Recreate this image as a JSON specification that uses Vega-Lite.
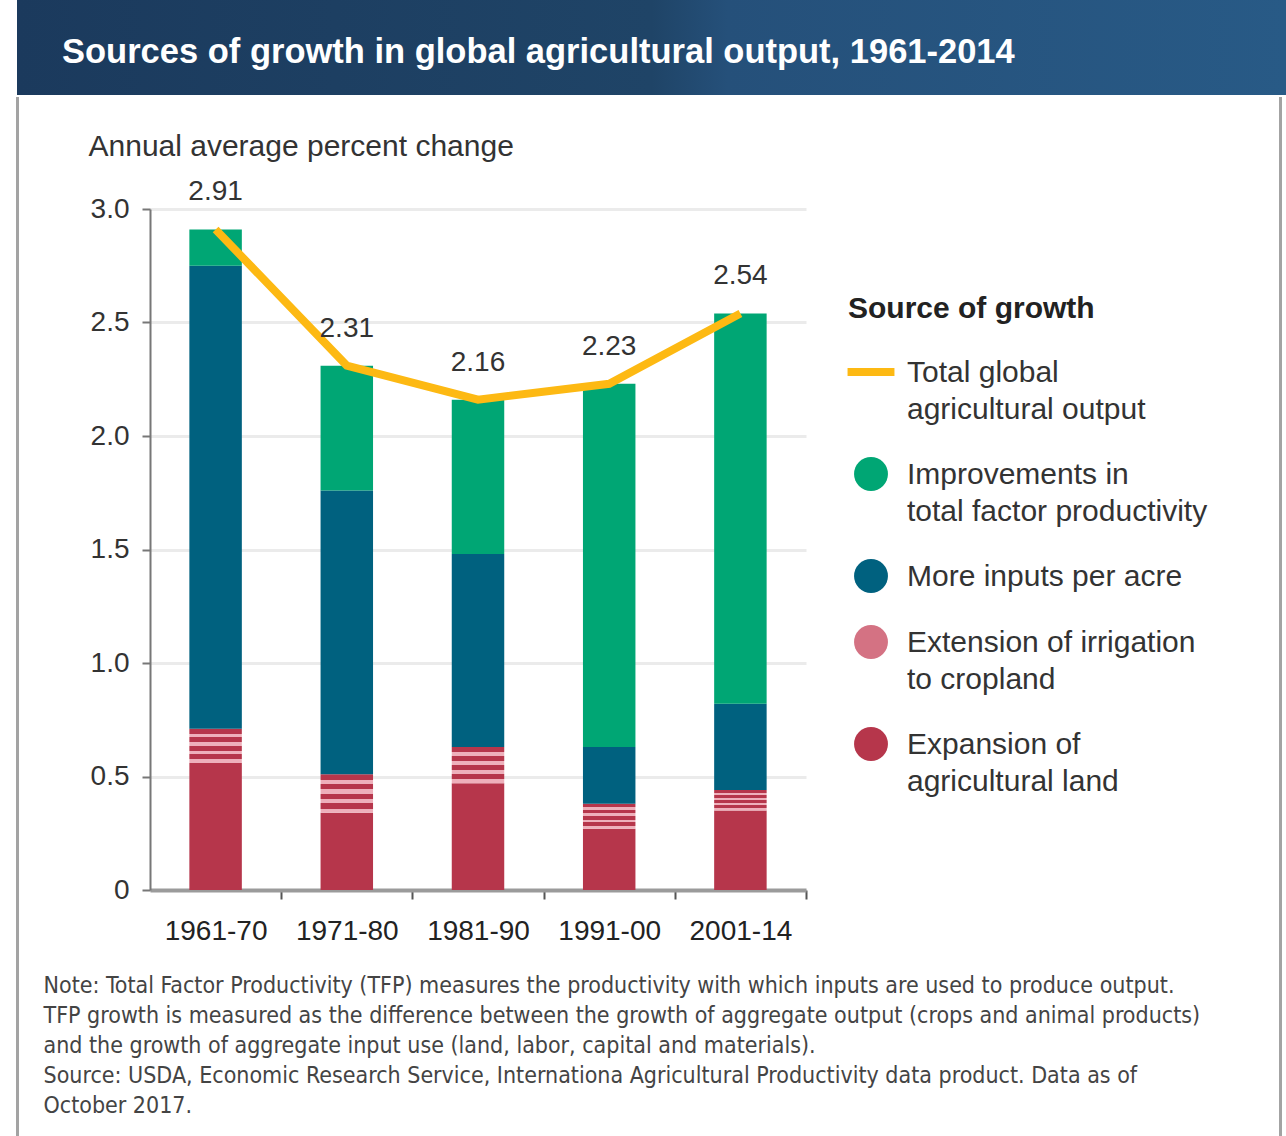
{
  "$schema": "https://vega.github.io/schema/vega-lite/v6.json",
  "padding": {"left": 17, "top": 0, "right": 0, "bottom": 0},
  "background": "white",
  "config": {"view": {"stroke": null}, "font": "Liberation Sans"},
  "datasets": {
    "bars": [
      {"period": "1961-70", "source": "Expansion of agricultural land", "layer": 1, "value": 0.56},
      {"period": "1961-70", "source": "Extension of irrigation to cropland", "layer": 2, "value": 0.15},
      {"period": "1961-70", "source": "More inputs per acre", "layer": 3, "value": 2.04},
      {"period": "1961-70", "source": "Improvements in total factor productivity", "layer": 4, "value": 0.16},
      {"period": "1971-80", "source": "Expansion of agricultural land", "layer": 1, "value": 0.34},
      {"period": "1971-80", "source": "Extension of irrigation to cropland", "layer": 2, "value": 0.17},
      {"period": "1971-80", "source": "More inputs per acre", "layer": 3, "value": 1.25},
      {"period": "1971-80", "source": "Improvements in total factor productivity", "layer": 4, "value": 0.55},
      {"period": "1981-90", "source": "Expansion of agricultural land", "layer": 1, "value": 0.47},
      {"period": "1981-90", "source": "Extension of irrigation to cropland", "layer": 2, "value": 0.16},
      {"period": "1981-90", "source": "More inputs per acre", "layer": 3, "value": 0.85},
      {"period": "1981-90", "source": "Improvements in total factor productivity", "layer": 4, "value": 0.68},
      {"period": "1991-00", "source": "Expansion of agricultural land", "layer": 1, "value": 0.27},
      {"period": "1991-00", "source": "Extension of irrigation to cropland", "layer": 2, "value": 0.11},
      {"period": "1991-00", "source": "More inputs per acre", "layer": 3, "value": 0.25},
      {"period": "1991-00", "source": "Improvements in total factor productivity", "layer": 4, "value": 1.60},
      {"period": "2001-14", "source": "Expansion of agricultural land", "layer": 1, "value": 0.35},
      {"period": "2001-14", "source": "Extension of irrigation to cropland", "layer": 2, "value": 0.09},
      {"period": "2001-14", "source": "More inputs per acre", "layer": 3, "value": 0.38},
      {"period": "2001-14", "source": "Improvements in total factor productivity", "layer": 4, "value": 1.72}
    ],
    "totals": [
      {"period": "1961-70", "source": "Total global agricultural output", "total": 2.91},
      {"period": "1971-80", "source": "Total global agricultural output", "total": 2.31},
      {"period": "1981-90", "source": "Total global agricultural output", "total": 2.16},
      {"period": "1991-00", "source": "Total global agricultural output", "total": 2.23},
      {"period": "2001-14", "source": "Total global agricultural output", "total": 2.54}
    ]
  },
  "spacing": 36,
  "vconcat": [
    {
      "width": 1269,
      "height": 95,
      "view": {
        "fill": {"gradient": "linear", "x1": 0, "y1": 0, "x2": 1, "y2": 0, "stops": [
          {"offset": 0, "color": "#1b3a5d"},
          {"offset": 0.5, "color": "#1f4467"},
          {"offset": 0.56, "color": "#25507a"},
          {"offset": 1, "color": "#285a86"}
        ]},
        "stroke": null
      },
      "data": {"values": [{"title": "Sources of growth in global agricultural output, 1961-2014"}]},
      "mark": {"type": "text", "align": "left", "baseline": "middle", "color": "white", "fontSize": 34.5, "fontWeight": "bold", "dx": 45, "dy": 5},
      "encoding": {
        "text": {"field": "title"},
        "x": {"datum": 0, "type": "quantitative", "scale": {"domain": [0, 1]}, "axis": null},
        "y": {"datum": 0.5, "type": "quantitative", "scale": {"domain": [0, 1]}, "axis": null}
      }
    },
    {
      "spacing": 0,
      "hconcat": [
        {
          "width": 26,
          "height": 927,
          "data": {"values": []},
          "mark": "point",
          "encoding": {
            "y": {"datum": 0, "type": "quantitative", "scale": {"domain": [0, 1], "range": [927, -112.5]},
              "axis": {"domain": true, "domainColor": "#a3a3a3", "domainWidth": 3, "ticks": false, "labels": false, "grid": false, "title": null}}
          }
        },
        {
          "width": 656,
          "height": 681,
          "layer": [
            {
              "data": {"name": "bars"},
              "mark": {"type": "bar"},
              "encoding": {
                "x": {
                  "field": "period", "type": "nominal", "sort": null,
                  "scale": {"paddingInner": 0.6, "paddingOuter": 0.3},
                  "axis": {
                    "labelAngle": 0, "labelFontSize": 28, "labelColor": "#222", "labelPadding": 18,
                    "tickSize": 9, "tickColor": "#555", "tickWidth": 2,
                    "tickOffset": 65.6, "labelOffset": -65.6,
                    "domainColor": "#9b9b9b", "domainWidth": 4, "grid": false,
                    "title": [
                      "Note: Total Factor Productivity (TFP) measures the productivity with which inputs are used to produce output.",
                      "TFP growth is measured as the difference between the growth of aggregate output (crops and animal products)",
                      "and the growth of aggregate input use (land, labor, capital and materials).",
                      "Source: USDA, Economic Research Service, Internationa Agricultural Productivity data product. Data as of",
                      "October 2017."
                    ],
                    "titleFont": "DejaVu Sans Condensed, Liberation Sans",
                    "titleFontSize": 23, "titleFontWeight": "normal", "titleColor": "#444",
                    "titleAlign": "left", "titleAnchor": "start", "titleBaseline": "top",
                    "titleLineHeight": 30, "titleX": -107, "titleY": 84
                  }
                },
                "y": {
                  "field": "value", "type": "quantitative", "stack": "zero",
                  "scale": {"domain": [0, 3], "nice": false},
                  "axis": {
                    "values": [0, 0.5, 1, 1.5, 2, 2.5, 3],
                    "labelExpr": "datum.value == 0 ? '0' : format(datum.value, '.1f')",
                    "grid": true, "gridColor": "#ebebeb", "gridWidth": 3,
                    "domainColor": "#777", "domainWidth": 2,
                    "tickColor": "#777", "tickSize": 8, "tickWidth": 2,
                    "labelFontSize": 28, "labelColor": "#333", "labelPadding": 13,
                    "title": "Annual average percent change",
                    "titleAngle": 0, "titleAlign": "left", "titleBaseline": "alphabetic",
                    "titleX": -62, "titleY": -54, "titleFontSize": 30, "titleFontWeight": "normal", "titleColor": "#333"
                  }
                },
                "order": {"field": "layer", "type": "quantitative", "sort": "ascending"},
                "color": {
                  "field": "source", "type": "nominal",
                  "scale": {
                    "domain": ["Total global agricultural output", "Improvements in total factor productivity", "More inputs per acre", "Extension of irrigation to cropland", "Expansion of agricultural land"],
                    "range": ["#fdb913", "#00a674", "#00617f", "#d47283", "#b6364b"]
                  },
                  "condition": {
                    "test": "datum.source === 'Extension of irrigation to cropland'",
                    "value": {"gradient": "linear", "x1": 0, "y1": 0, "x2": 0, "y2": 1, "stops": [
                      {"offset": 0, "color": "#b6364b"}, {"offset": 0.14, "color": "#b6364b"},
                      {"offset": 0.14, "color": "#eeb0bb"}, {"offset": 0.25, "color": "#eeb0bb"},
                      {"offset": 0.25, "color": "#b6364b"}, {"offset": 0.39, "color": "#b6364b"},
                      {"offset": 0.39, "color": "#eeb0bb"}, {"offset": 0.5, "color": "#eeb0bb"},
                      {"offset": 0.5, "color": "#b6364b"}, {"offset": 0.64, "color": "#b6364b"},
                      {"offset": 0.64, "color": "#eeb0bb"}, {"offset": 0.75, "color": "#eeb0bb"},
                      {"offset": 0.75, "color": "#b6364b"}, {"offset": 0.89, "color": "#b6364b"},
                      {"offset": 0.89, "color": "#eeb0bb"}, {"offset": 1, "color": "#eeb0bb"}
                    ]}
                  },
                  "legend": {
                    "orient": "none", "legendX": 831, "legendY": 294,
                    "title": "Source of growth", "titleFontSize": 30, "titleFontWeight": "bold", "titleColor": "#222",
                    "titlePadding": 33, "titleLimit": 500,
                    "labelFontSize": 30, "labelColor": "#333", "labelOffset": 21, "labelLimit": 500,
                    "labelBaseline": "alphabetic",
                    "symbolSize": 2200, "symbolOffset": 8, "rowPadding": 32,
                    "labelExpr": "datum.label === 'Total global agricultural output' ? ['Total global', 'agricultural output'] : datum.label === 'Improvements in total factor productivity' ? ['Improvements in', 'total factor productivity'] : datum.label === 'Extension of irrigation to cropland' ? ['Extension of irrigation', 'to cropland'] : datum.label === 'Expansion of agricultural land' ? ['Expansion of', 'agricultural land'] : datum.label",
                    "encode": {
                      "labels": {"update": {"lineHeight": {"value": 37}, "dy": {"value": 10}}},
                      "symbols": {"update": {
                        "shape": {"signal": "datum.value === 'Total global agricultural output' ? 'stroke' : 'circle'"},
                        "size": {"signal": "datum.value === 'Total global agricultural output' ? 2200 : 1150"},
                        "strokeWidth": {"signal": "datum.value === 'Total global agricultural output' ? 8 : 0"},
                        "stroke": {"signal": "scale('color', datum.value)"},
                        "fill": [
                          {"test": "datum.value === 'Total global agricultural output'", "value": "transparent"},
                          {"scale": "color", "field": "value"}
                        ],
                        "opacity": {"value": 1},
                        "fillOpacity": {"value": 1}
                      }}
                    }
                  }
                }
              }
            },
            {
              "data": {"name": "totals"},
              "mark": {"type": "line", "strokeWidth": 8},
              "encoding": {
                "x": {"field": "period", "type": "nominal", "sort": null},
                "y": {"field": "total", "type": "quantitative"},
                "color": {"field": "source", "type": "nominal"}
              }
            },
            {
              "data": {"name": "totals"},
              "mark": {"type": "text", "dy": -37, "fontSize": 28, "color": "#333"},
              "encoding": {
                "x": {"field": "period", "type": "nominal", "sort": null},
                "y": {"field": "total", "type": "quantitative"},
                "text": {"field": "total", "type": "quantitative", "format": ".2f"}
              }
            }
          ]
        },
        {
          "width": 80,
          "height": 927,
          "data": {"values": []},
          "mark": "point",
          "encoding": {
            "y": {"datum": 0, "type": "quantitative", "scale": {"domain": [0, 1], "range": [927, -112.5]},
              "axis": {"orient": "right", "domain": true, "domainColor": "#a3a3a3", "domainWidth": 3, "ticks": false, "labels": false, "grid": false, "title": null}}
          }
        }
      ]
    }
  ]
}
